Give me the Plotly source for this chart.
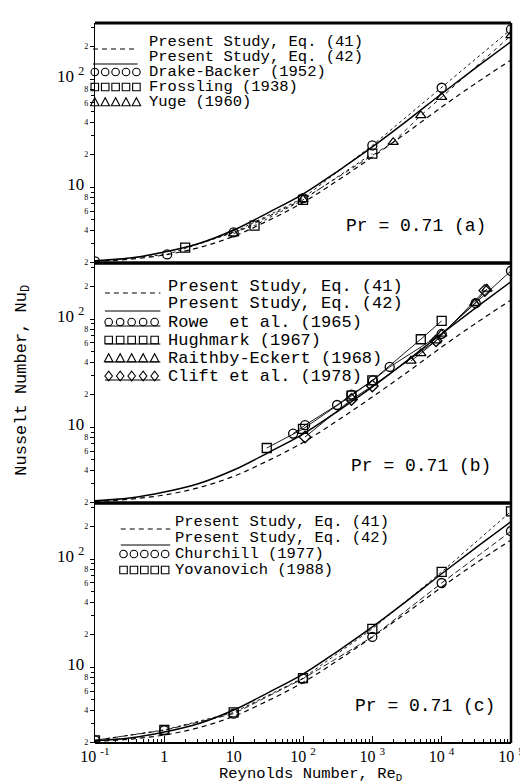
import math
import plotly.graph_objects as go

# ---------------- data ----------------
re_curve = [0.1, 0.316, 1, 3.16, 10, 31.6, 100, 316, 1000, 3160, 10000, 31600, 100000]
nu_eq41 = [2.05, 2.15, 2.35, 2.75, 3.5, 4.9, 7.2, 11.5, 19, 32, 55, 92, 150]
nu_eq42 = [2.08, 2.2, 2.5, 3.0, 4.0, 5.8, 8.6, 14, 23.5, 41, 73, 128, 222]

# panel (a)
re_drake = [0.1, 1.1, 10, 100, 1000, 10000, 100000]
nu_drake = [2.05, 2.38, 3.8, 7.9, 24.3, 83, 288]
re_fross = [2, 20, 100, 1000]
nu_fross = [2.75, 4.4, 7.6, 20.4]
re_yuge = [10, 100, 2000, 5000, 10000, 100000]
nu_yuge = [3.7, 7.7, 26, 46, 68, 253]

# panel (b)
re_rowe = [72, 107, 310, 500, 1020, 1780, 10000, 31000, 100000]
nu_rowe = [8.7, 10.4, 16, 20, 27, 36, 73, 140, 279]
re_hugh = [30, 100, 500, 1000, 5000, 10000]
nu_hugh = [6.4, 9.6, 19.5, 27, 65, 96]
re_raith = [3600, 5000, 8300, 10000, 30000, 45000]
nu_raith = [41, 48, 63, 73, 140, 190]
re_clift = [107, 500, 1000, 8300, 42000]
nu_clift = [8.1, 18, 24, 63, 184]

# panel (c)
re_church = [0.1, 1, 10, 100, 1000, 10000, 100000]
nu_church = [2.1, 2.6, 3.7, 7.8, 19, 60, 181]
re_yovan = [0.1, 1, 10, 100, 1000, 10000, 100000]
nu_yovan = [2.1, 2.62, 3.8, 7.9, 22.6, 76, 276]

x_tickvals = [0.1, 1, 10, 100, 1000, 10000, 100000]
x_ticktext = ["10 <sup>-1</sup>", "1", "10", "10 <sup>2</sup>", "10 <sup>3</sup>",
              "10 <sup>4</sup>", "10 <sup>5</sup>"]
y_tickvals = [2, 4, 6, 8, 10, 20, 40, 60, 80, 100, 200]
y_ticktext = ["2", "4", "6", "8", "BIG10", "2", "4", "6", "8", "BIG10 <sup>2</sup>", "2"]
y_minor = [3, 5, 7, 9, 30, 50, 70, 90, 300]

# ---------------- layout geometry ----------------
W, H = 528, 784
L, R, T, B = 87, 21, 15, 49
PW, PH = W - L - R, H - T - B


def px(xp):
    return (xp - L) / PW


def py(yp):
    return (H - B - yp) / PH


BLK = "black"
MONO = "Liberation Mono, Courier New, monospace"
SERIF = "Liberation Serif, Times New Roman, serif"

fig = go.Figure()


def line(x, y, ax, dash, width=1.3):
    fig.add_trace(go.Scatter(x=x, y=y, mode="lines", xaxis="x" + ax, yaxis="y" + ax,
                             line=dict(color=BLK, width=width, dash=dash, shape="spline"),
                             showlegend=False, hoverinfo="skip"))


def pts(x, y, ax, sym, dash=None, width=0.9):
    mode = "markers" if dash is None else "lines+markers"
    fig.add_trace(go.Scatter(x=x, y=y, mode=mode, xaxis="x" + ax, yaxis="y" + ax,
                             marker=dict(symbol=sym, size=9, color=BLK,
                                         line=dict(color=BLK, width=1.3)),
                             line=dict(color=BLK, width=width, dash=dash or "solid"),
                             showlegend=False, hoverinfo="skip"))


for ax in ["", "2", "3"]:
    line(re_curve, nu_eq41, ax, "5px,4px", 1.2)
    line(re_curve, nu_eq42, ax, "solid", 1.5)

# (a)
pts(re_drake, nu_drake, "", "circle-open", "dot")
pts(re_fross, nu_fross, "", "square-open", "3px,3px")
pts(re_yuge, nu_yuge, "", "triangle-up-open", "4px,4px")
# (b)
pts(re_rowe, nu_rowe, "2", "circle-open", "solid")
pts(re_hugh, nu_hugh, "2", "square-open", "solid")
pts(re_raith, nu_raith, "2", "triangle-up-open", "solid")
pts(re_clift, nu_clift, "2", "diamond-open", "solid")
# (c)
pts(re_church, nu_church, "3", "circle-open", "6px,3px")
pts(re_yovan, nu_yovan, "3", "square-open", "dot")

big = '<span style="font-size:17px">'
ytext = [(big + t[3:] + '</span>\u00a0\u00a0') if t.startswith("BIG") else t for t in y_ticktext]

ylo, yhi = math.log10(2) - 0.004, math.log10(330)
doms = [[2 / 3, 1], [1 / 3, 2 / 3], [0, 1 / 3]]
for i, ax in enumerate(["", "2", "3"]):
    bottom = (i == 2)
    fig.layout["xaxis" + ax] = dict(
        type="log", range=[-1, 5], domain=[0, 1], anchor="y" + ax,
        showline=False, showgrid=False, zeroline=False,
        tickvals=x_tickvals, ticktext=x_ticktext,
        showticklabels=bottom, ticks="inside" if bottom else "",
        ticklen=7, tickwidth=1.2, tickcolor=BLK,
        tickfont=dict(family=SERIF, size=16, color=BLK), ticklabelstandoff=2,
        minor=dict(ticks="inside" if bottom else "", ticklen=4, tickwidth=1, tickcolor=BLK,
                   tickvals=[m * 10 ** e for e in range(-1, 5) for m in range(2, 10)]),
    )
    fig.layout["yaxis" + ax] = dict(
        type="log", range=[ylo, yhi], domain=doms[i], anchor="x" + ax,
        showline=True, linecolor=BLK, linewidth=1.2, showgrid=False, zeroline=False,
        tickvals=y_tickvals, ticktext=ytext, ticks="outside", ticklen=4, tickwidth=1.2,
        tickcolor=BLK, tickfont=dict(family=SERIF, size=8, color=BLK),
        minor=dict(ticks="outside", ticklen=3, tickwidth=1, tickcolor=BLK, tickvals=y_minor),
    )

shapes = []


def hline(y, w, x0=L, x1=W - R):
    shapes.append(dict(type="line", xref="paper", yref="paper", x0=px(x0), x1=px(x1),
                       y0=py(y), y1=py(y), line=dict(color=BLK, width=w)))


hline(T, 3)
hline(T + PH / 3, 3.5)
hline(T + 2 * PH / 3, 3.5)
hline(H - B, 2)
shapes.append(dict(type="line", xref="paper", yref="paper", x0=1, x1=1, y0=0, y1=1,
                   line=dict(color=BLK, width=2.5)))

ann = []


def text(x, y, s, size, family=MONO, anchor="left", **kw):
    ann.append(dict(x=px(x), y=py(y), xref="paper", yref="paper", text=s, showarrow=False,
                    xanchor=anchor, yanchor="middle", font=dict(family=family, size=size, color=BLK),
                    **kw))


def sample(x0, x1, y, dash, w=1.2):
    shapes.append(dict(type="line", xref="paper", yref="paper", x0=px(x0), x1=px(x1),
                       y0=py(y), y1=py(y), line=dict(color=BLK, width=w, dash=dash)))


def glyphs(x0, y, kind, n=5, step=10.5, r=3.8):
    # legend sample symbols drawn as outline shapes (paper coordinates)
    for k in range(n):
        cx = x0 + r + k * step
        base = dict(xref="paper", yref="paper", line=dict(color=BLK, width=1.1),
                    fillcolor="rgba(0,0,0,0)")
        if kind == "circle":
            shapes.append(dict(type="circle", x0=px(cx - r), x1=px(cx + r),
                               y0=py(y + r), y1=py(y - r), **base))
        elif kind == "square":
            shapes.append(dict(type="rect", x0=px(cx - r), x1=px(cx + r),
                               y0=py(y + r), y1=py(y - r), **base))
        elif kind == "triangle":
            p = "M {} {} L {} {} L {} {} Z".format(px(cx - r - 0.5), py(y + r), px(cx + r + 0.5),
                                                  py(y + r), px(cx), py(y - r - 0.5))
            shapes.append(dict(type="path", path=p, **base))
        elif kind == "diamond":
            p = "M {} {} L {} {} L {} {} L {} {} Z".format(px(cx - r), py(y), px(cx), py(y - r - 1),
                                                          px(cx + r), py(y), px(cx), py(y + r + 1))
            shapes.append(dict(type="path", path=p, **base))


# legend (a)
ya = [34, 49, 64, 79, 94]
labels_a = ["Present Study, Eq. (41)", "Present Study, Eq. (42)", "Drake-Backer (1952)",
            "Frossling (1938)", "Yuge (1960)"]
for yy, lab in zip(ya, labels_a):
    text(139, yy, lab, 15.5)
sample(85, 130, 41, "5px,4px")
sample(85, 130, 56, "solid")
glyphs(83, ya[2], "circle")
glyphs(83, ya[3], "square")
glyphs(83, ya[4], "triangle")

# legend (b)
yb = [278, 296, 314, 332, 350, 368]
labels_b = ["Present Study, Eq. (41)", "Present Study, Eq. (42)", "Rowe  et al. (1965)",
            "Hughmark (1967)", "Raithby-Eckert (1968)", "Clift et al. (1978)"]
for yy, lab in zip(yb, labels_b):
    text(159, yy, lab, 17)
sample(97, 153, 285, "5px,4px")
sample(97, 153, 303, "solid")
for yy, kind in zip(yb[2:], ["circle", "square", "triangle", "diamond"]):
    glyphs(97, yy, kind, step=11.6)
    sample(97, 153, yy + 4, "solid", 1)

# legend (c)
yc = [514, 530, 546, 562]
labels_c = ["Present Study, Eq. (41)", "Present Study, Eq. (42)", "Churchill (1977)",
            "Yovanovich (1988)"]
for yy, lab in zip(yc, labels_c):
    text(166, yy, lab, 15.5)
sample(113, 163, 521, "5px,4px")
sample(113, 163, 537, "solid")
glyphs(112, yc[2], "circle")
glyphs(112, yc[3], "square")

# Pr labels
text(411, 218, "Pr = 0.71 (a)", 18, anchor="center")
text(416, 458, "Pr = 0.71 (b)", 18, anchor="center")
text(420, 698, "Pr = 0.71 (c)", 18, anchor="center")

# axis titles
text(305, 766, "Reynolds Number, Re<sub>D</sub>", 15.5, anchor="center")
text(14, 372, "Nusselt Number, Nu<sub>D</sub>", 17, anchor="center", textangle=-90)

fig.update_layout(width=W, height=H, margin=dict(l=L, r=R, t=T, b=B),
                  paper_bgcolor="white", plot_bgcolor="white", showlegend=False,
                  shapes=shapes, annotations=ann)
fig.write_html("out.html")
